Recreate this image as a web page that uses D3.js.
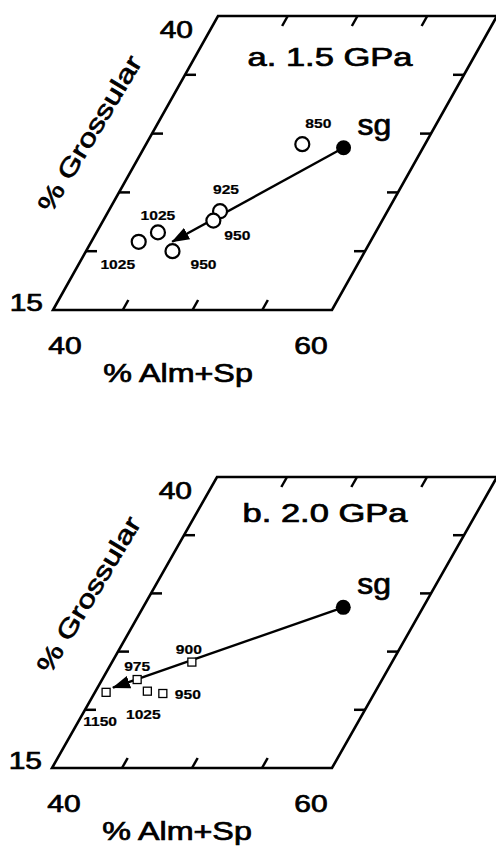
<!doctype html>
<html lang=en>

<head>
  <meta charset=utf-8>
  <title>Garnet compositions</title>
  <style>
    body { margin: 0; background: #fff; }
    svg { display: block; }
  </style>
</head>

<body>
  <svg></svg>
  <script src="https://d3js.org/d3.v7.min.js"></script>
  <script>
    // axis ranges and ticks
    var almDomain = [40, 60];
    var groDomain = [15, 40];
    var almTicks = [45, 50, 55];
    var groTicks = [20, 25, 30, 35];

    // starting glass
    var sgAlm = 54.3;
    var sgGro = 28.8;

    // a. 1.5 GPa runs (circles), temperature in C
    var tempA = [850, 925, 950, 1025, 1025, 950];
    var almA = [51.2, 48.0, 47.9, 44.4, 43.4, 46.2];
    var groA = [29.1, 23.4, 22.6, 21.6, 20.8, 20.0];
    var arrowA = [45.8, 20.8];

    // b. 2.0 GPa runs (squares)
    var tempB = [900, 975, 1150, 1025, 950];
    var almB = [45.7, 42.5, 40.8, 43.7, 44.9];
    var groB = [24.1, 22.6, 21.5, 21.6, 21.4];
    var arrowB = [41.1, 21.9];

    var font = "'Liberation Sans', Arial, Helvetica, sans-serif";

    var svg = d3.select("svg")
      .attr("width", 496)
      .attr("height", 849);

    svg.append("defs").append("marker")
      .attr("id", "head")
      .attr("markerUnits", "userSpaceOnUse")
      .attr("viewBox", "0 -7 18 14")
      .attr("refX", 17)
      .attr("refY", 0)
      .attr("markerWidth", 18)
      .attr("markerHeight", 14)
      .attr("orient", "auto")
      .append("path")
      .attr("d", "M0,-6.5L18,0L0,6.5Z")
      .attr("fill", "#000");

    var panels = [
      {
        title: "a. 1.5 GPa", left: 53, top: 16, width: 279, height: 294, shift: 165,
        titleX: 277, titleY: 50,
        temp: tempA, alm: almA, gro: groA, arrow: arrowA, symbol: "circle",
        labelDx: [16, 6, 24, 0, -21, 31],
        labelDy: [-16, -17, 19, -12, 27, 18]
      },
      {
        title: "b. 2.0 GPa", left: 52, top: 477, width: 280, height: 291, shift: 165,
        titleX: 273, titleY: 45,
        temp: tempB, alm: almB, gro: groB, arrow: arrowB, symbol: "square",
        labelDx: [-3, 0, -6, -4, 25],
        labelDy: [-8, -9, 34, 28, 5]
      }
    ];

    function addText(sel, x, y, str, size, sx, anchor, weight, rot) {
      return sel.append("text")
        .attr("transform", "translate(" + x + "," + y + ")" +
          (rot ? " rotate(" + rot + ")" : "") + " scale(" + sx + ",1)")
        .attr("text-anchor", anchor)
        .attr("font-family", font)
        .attr("font-size", size)
        .attr("font-weight", weight || "normal")
        .attr("fill", "#000")
        .attr("stroke", "#000")
        .attr("stroke-width", weight === "bold" ? 0.2 : 0.7)
        .text(str);
    }

    panels.forEach(function (p) {
      var x = d3.scaleLinear().domain(almDomain).range([0, p.width]);
      var y = d3.scaleLinear().domain(groDomain).range([0, p.height]);
      var k = p.shift / p.height;
      var bottom = p.top + p.height;

      function px(a, gr) { return p.left + x(a) + y(gr) * k; }
      function py(gr) { return bottom - y(gr); }

      var g = svg.append("g");

      // parallelogram frame
      var corners = [[40, 15], [60, 15], [60, 40], [40, 40]];
      g.append("path")
        .attr("d", d3.line()(corners.map(function (c) {
          return [px(c[0], c[1]), py(c[1])];
        })) + "Z")
        .attr("fill", "none")
        .attr("stroke", "#000")
        .attr("stroke-width", 2.6);

      // ticks
      var tl = 10;
      almTicks.forEach(function (t) {
        g.append("line")
          .attr("x1", px(t, 15)).attr("y1", py(15))
          .attr("x2", px(t, 15) + tl * k).attr("y2", py(15) - tl);
        g.append("line")
          .attr("x1", px(t, 40)).attr("y1", py(40))
          .attr("x2", px(t, 40) - tl * k).attr("y2", py(40) + tl);
      });
      groTicks.forEach(function (t) {
        g.append("line")
          .attr("x1", px(40, t)).attr("y1", py(t))
          .attr("x2", px(40, t) + 11).attr("y2", py(t));
        g.append("line")
          .attr("x1", px(60, t)).attr("y1", py(t))
          .attr("x2", px(60, t) - 11).attr("y2", py(t));
      });
      g.selectAll("line").attr("stroke", "#000").attr("stroke-width", 2.5);

      // tick labels
      addText(g, px(40, 40) - 25, py(40) + 22, "40", 24, 1.25, "end");
      addText(g, px(40, 15) - 10, py(15) + 1, "15", 24, 1.25, "end");
      addText(g, px(40, 15) + 12, py(15) + 44, "40", 24, 1.25, "middle");
      addText(g, px(60, 15) - 21, py(15) + 44, "60", 24, 1.25, "middle");

      // axis titles
      addText(g, p.left + 125, bottom + 72, "% Alm+Sp", 25, 1.29, "middle");
      addText(g, p.left + 44, p.top + 122, "% Grossular", 25, 1.29, "middle", "normal", -59);
      addText(g, p.left + p.titleX, p.top + p.titleY, p.title, 25, 1.38, "middle");

      // trend arrow from starting glass
      g.append("line")
        .attr("x1", px(sgAlm, sgGro)).attr("y1", py(sgGro))
        .attr("x2", px(p.arrow[0], p.arrow[1])).attr("y2", py(p.arrow[1]))
        .attr("stroke", "#000")
        .attr("stroke-width", 2.4)
        .attr("marker-end", "url(#head)");

      g.append("circle")
        .attr("cx", px(sgAlm, sgGro)).attr("cy", py(sgGro))
        .attr("r", 7.5)
        .attr("fill", "#000");
      addText(g, px(sgAlm, sgGro) + 14, py(sgGro) - 13, "sg", 29, 1.1, "start");

      // run products
      p.temp.forEach(function (t, i) {
        var cx = px(p.alm[i], p.gro[i]);
        var cy = py(p.gro[i]);
        if (p.symbol === "circle") {
          g.append("circle")
            .attr("cx", cx).attr("cy", cy).attr("r", 7)
            .attr("fill", "#fff").attr("stroke", "#000").attr("stroke-width", 2.2);
        } else {
          g.append("rect")
            .attr("x", cx - 4).attr("y", cy - 4)
            .attr("width", 8).attr("height", 8)
            .attr("fill", "#fff").attr("stroke", "#000").attr("stroke-width", 1.3);
        }
        addText(g, cx + p.labelDx[i], cy + p.labelDy[i], t, 13, 1.2, "middle", "bold");
      });
    });
  </script>
</body>

</html>
